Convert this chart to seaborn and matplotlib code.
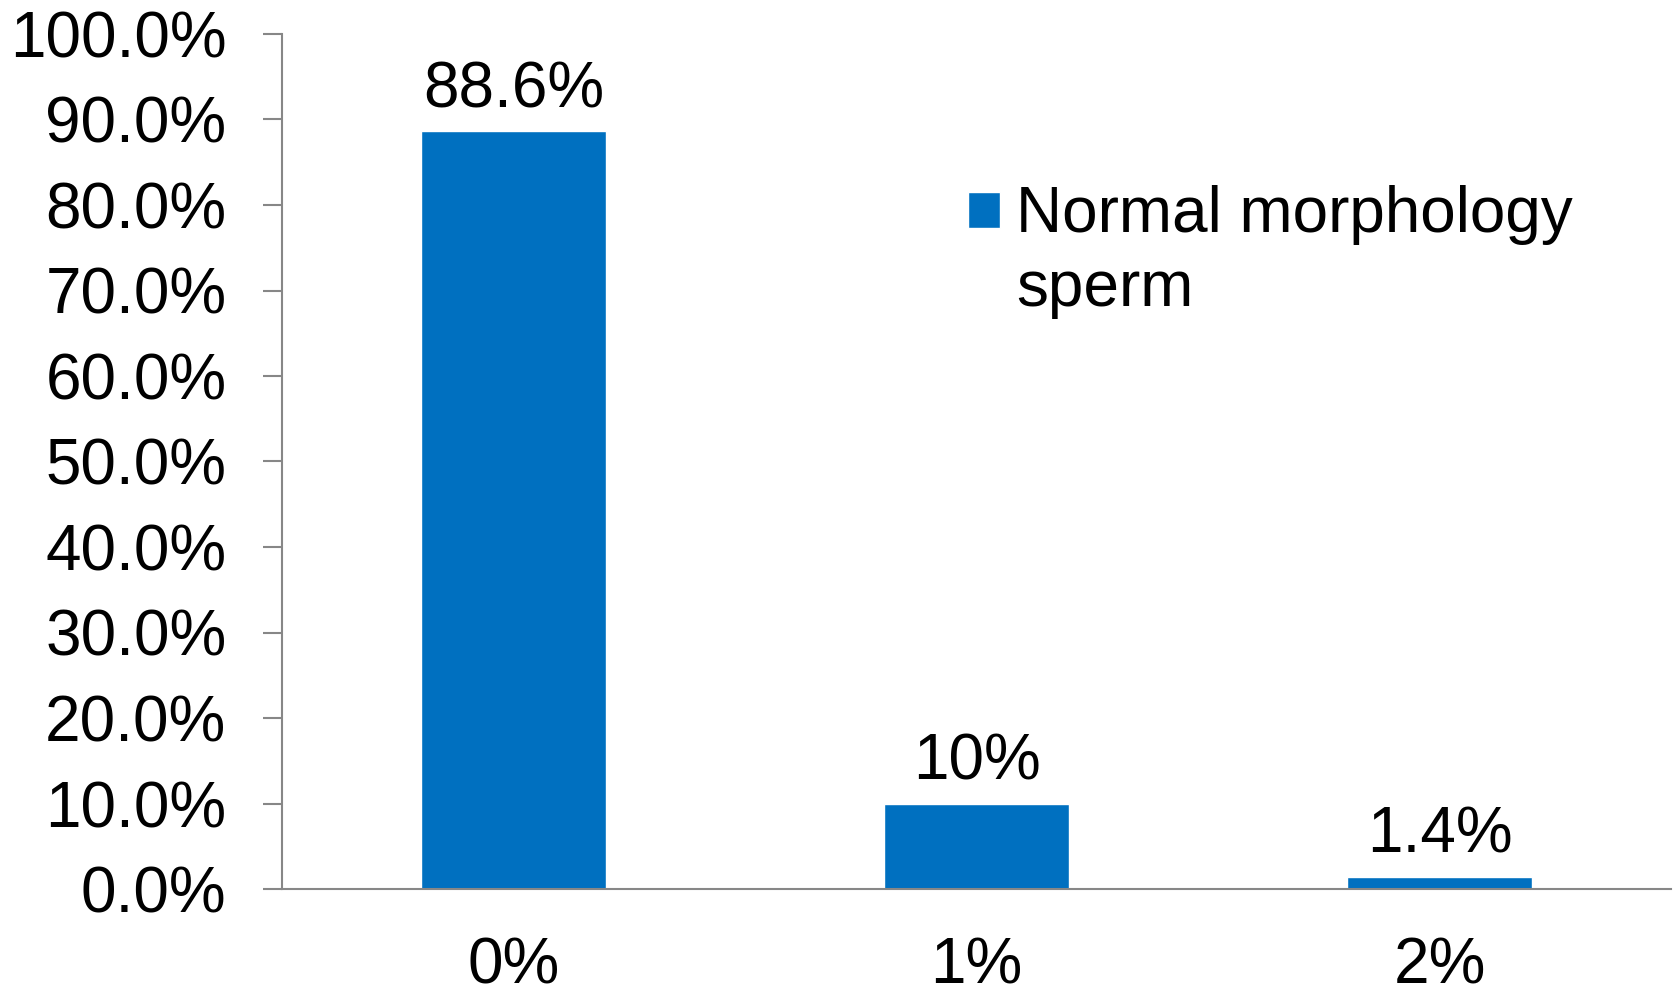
import numpy as np
import pandas as pd
import matplotlib
matplotlib.use("Agg")
import matplotlib.pyplot as plt
import matplotlib.patches as mpatches
from matplotlib.legend_handler import HandlerPatch
import seaborn as sns

# Data
categories = ['0%', '1%', '2%']
values = [88.6, 10.0, 1.4]
bar_labels = ['88.6%', '10%', '1.4%']
series_name = 'Normal morphology\nsperm'
y_ticks = [0, 10, 20, 30, 40, 50, 60, 70, 80, 90, 100]

sns.set_style("white")
plt.rcParams['font.family'] = ['Liberation Sans', 'DejaVu Sans']
plt.rcParams['text.color'] = 'black'
plt.rcParams['xtick.labelcolor'] = 'black'
plt.rcParams['ytick.labelcolor'] = 'black'

bar_color = '#0070C0'
axis_color = '#878787'
fs = 46

df = pd.DataFrame({'cat': categories, 'val': values, 'series': series_name})

fig = plt.figure(figsize=(16.77, 9.92), dpi=100)
ax = fig.add_axes([282 / 1677, 1 - 889 / 992, (1671 - 282) / 1677, (889 - 34) / 992])

sns.barplot(data=df, x='cat', y='val', hue='series', palette=[bar_color],
            width=0.4, order=categories, ax=ax, saturation=1)

ax.set_ylim(0, 100)
ax.set_xlim(-0.5, 2.5)
ax.set_yticks(y_ticks)
ax.set_yticklabels([f'{t:.1f}%' for t in y_ticks])
ax.set_xlabel('')
ax.set_ylabel('')

# category labels at centers, tick marks at boundaries
ax.set_xticks(range(len(categories)))
ax.set_xticklabels(categories)
ax.set_xticks([-0.5, 0.5, 1.5, 2.5], minor=True)
ax.tick_params(axis='x', which='major', length=0, pad=34, labelsize=fs, labelcolor='black')
ax.tick_params(axis='x', which='minor', length=15, width=1.5, color=axis_color, direction='out')
ax.tick_params(axis='y', which='major', length=14, width=1.5, color=axis_color,
               direction='out', pad=26, labelsize=fs, left=True, labelcolor='black')

for side in ['top', 'right']:
    ax.spines[side].set_visible(False)
for side in ['left', 'bottom']:
    ax.spines[side].set_color(axis_color)
    ax.spines[side].set_linewidth(1.5)

ax.bar_label(ax.containers[0], labels=bar_labels, padding=8, fontsize=fs, color='black')


# legend square sits next to the first line of the label
def top_square(legend, orig_handle, xdescent, ydescent, width, height, fontsize):
    return mpatches.Rectangle((-xdescent, -ydescent + 31), width, height)


handles, labels = ax.get_legend_handles_labels()
leg = ax.legend(handles, labels, loc='upper left', bbox_to_anchor=(968 / 1677, 1 - 185 / 992),
                bbox_transform=fig.transFigure, frameon=False, fontsize=fs,
                handlelength=0.5, handleheight=0.5, handletextpad=0.25,
                borderpad=0, borderaxespad=0,
                handler_map={mpatches.Rectangle: HandlerPatch(patch_func=top_square)})
for t in leg.get_texts():
    t.set_linespacing(1.3)
    t.set_color('black')

fig.savefig('out.png', dpi=100)
